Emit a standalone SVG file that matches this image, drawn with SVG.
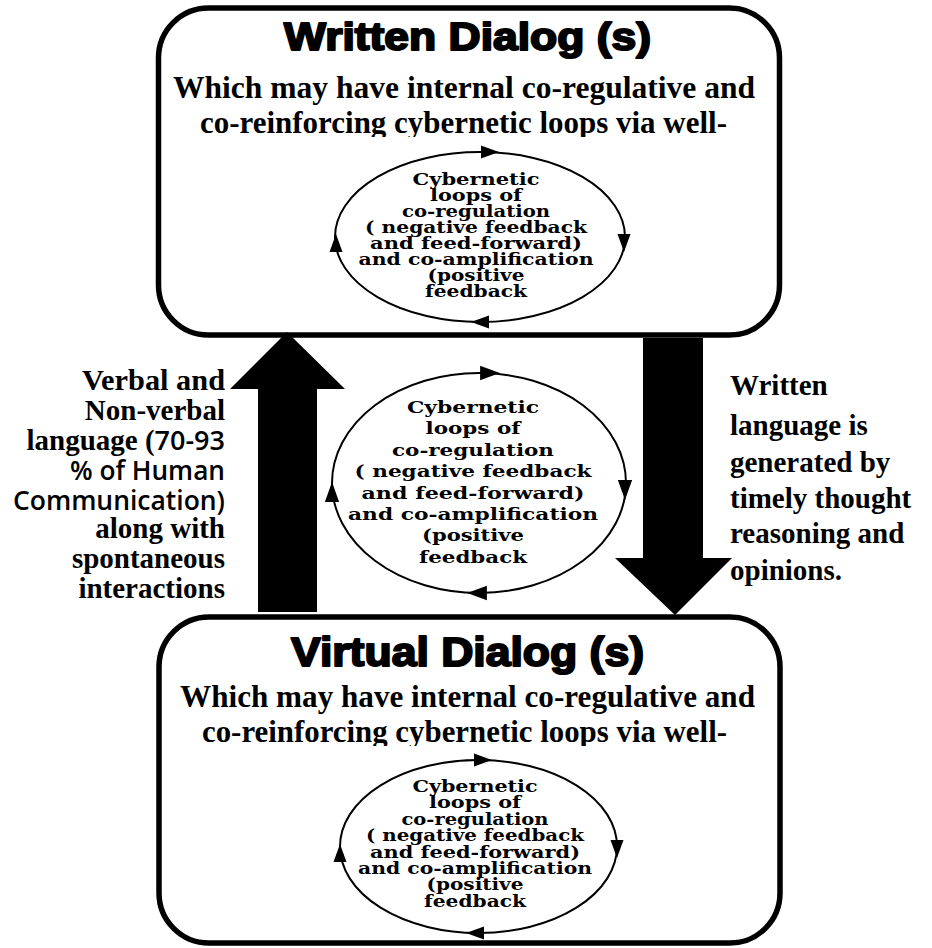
<svg xmlns="http://www.w3.org/2000/svg" xmlns:xlink="http://www.w3.org/1999/xlink" width="932" height="948" viewBox="0 0 932 948">
<style>
.box{fill:#fff;stroke:#000;stroke-width:5.5}
.ell{fill:none;stroke:#000;stroke-width:2}
.title{font-family:"Liberation Sans",Arial,sans-serif;font-weight:bold;fill:#000;stroke:#000;stroke-width:2;stroke-linejoin:round}
.sub{font-family:"Liberation Serif","Times New Roman",serif;font-weight:bold;font-size:31px;fill:#000}
.loop{font-family:"DejaVu Serif",serif;font-weight:bold;fill:#000;text-anchor:middle}
.side{font-family:"Liberation Serif","Times New Roman",serif;font-weight:bold;font-size:29px;fill:#000}
.sans{font-family:"Open Sans","Liberation Sans",sans-serif;font-weight:600;font-size:27px}
.blk{fill:#000;stroke:none}
</style>
<defs>
<path id="ah" d="M-9,-6.5 L9,0 L-9,6.5 Z" fill="#000"/>
<clipPath id="clipTop"><rect x="150" y="0" width="640" height="137"/></clipPath>
<clipPath id="clipBot"><rect x="150" y="600" width="640" height="146"/></clipPath>
</defs>

<g id="written-dialog">
<rect class="box" x="158.5" y="8" width="621" height="327" rx="50" ry="50"/>
<text class="title" x="284" y="50" font-size="38" textLength="367" lengthAdjust="spacingAndGlyphs">Written Dialog (s)</text>
<g clip-path="url(#clipTop)">
<text class="sub" x="173" y="98" textLength="582" lengthAdjust="spacingAndGlyphs">Which may have internal co-regulative and</text>
<text class="sub" x="200" y="133" textLength="527" lengthAdjust="spacingAndGlyphs">co-reinforcing cybernetic loops via well-</text>
</g>
<g id="written-loop">
<ellipse class="ell" cx="480" cy="237" rx="145" ry="85"/>
<use xlink:href="#ah" href="#ah" transform="translate(490,152)"/>
<use xlink:href="#ah" href="#ah" transform="translate(624,243) rotate(90)"/>
<use xlink:href="#ah" href="#ah" transform="translate(480,322) rotate(180)"/>
<use xlink:href="#ah" href="#ah" transform="translate(336,243) rotate(-90)"/>
<g class="loop" font-size="16">
<text x="476" y="185" textLength="127" lengthAdjust="spacingAndGlyphs">Cybernetic</text>
<text x="476" y="201" textLength="92" lengthAdjust="spacingAndGlyphs">loops of</text>
<text x="476" y="217" textLength="148" lengthAdjust="spacingAndGlyphs">co-regulation</text>
<text x="476" y="233" textLength="222" lengthAdjust="spacingAndGlyphs">( negative feedback</text>
<text x="476" y="249" textLength="212" lengthAdjust="spacingAndGlyphs">and feed-forward)</text>
<text x="476" y="265" textLength="235" lengthAdjust="spacingAndGlyphs">and co-amplification</text>
<text x="476" y="281" textLength="97" lengthAdjust="spacingAndGlyphs">(positive</text>
<text x="476" y="297" textLength="102" lengthAdjust="spacingAndGlyphs">feedback</text>
</g>
</g>
</g>

<g id="virtual-dialog">
<rect class="box" x="159" y="617" width="621" height="326" rx="50" ry="50"/>
<text class="title" x="291" y="666" font-size="40" textLength="353" lengthAdjust="spacingAndGlyphs">Virtual Dialog (s)</text>
<g clip-path="url(#clipBot)">
<text class="sub" x="180" y="707" textLength="575" lengthAdjust="spacingAndGlyphs">Which may have internal co-regulative and</text>
<text class="sub" x="202" y="742" textLength="525" lengthAdjust="spacingAndGlyphs">co-reinforcing cybernetic loops via well-</text>
</g>
<g id="virtual-loop">
<ellipse class="ell" cx="478.5" cy="846.5" rx="138.5" ry="86.5"/>
<use xlink:href="#ah" href="#ah" transform="translate(483,760)"/>
<use xlink:href="#ah" href="#ah" transform="translate(617,849) rotate(90)"/>
<use xlink:href="#ah" href="#ah" transform="translate(475,933) rotate(180)"/>
<use xlink:href="#ah" href="#ah" transform="translate(340,853) rotate(-90)"/>
<g class="loop" font-size="16">
<text x="475" y="792" textLength="125" lengthAdjust="spacingAndGlyphs">Cybernetic</text>
<text x="475" y="808.4" textLength="92" lengthAdjust="spacingAndGlyphs">loops of</text>
<text x="475" y="824.8" textLength="147" lengthAdjust="spacingAndGlyphs">co-regulation</text>
<text x="475" y="841.2" textLength="218" lengthAdjust="spacingAndGlyphs">( negative feedback</text>
<text x="475" y="857.6" textLength="210" lengthAdjust="spacingAndGlyphs">and feed-forward)</text>
<text x="475" y="874" textLength="234" lengthAdjust="spacingAndGlyphs">and co-amplification</text>
<text x="475" y="890.4" textLength="97" lengthAdjust="spacingAndGlyphs">(positive</text>
<text x="475" y="906.8" textLength="102" lengthAdjust="spacingAndGlyphs">feedback</text>
</g>
</g>
</g>

<g id="middle-loop">
<ellipse class="ell" cx="479" cy="483" rx="147" ry="110"/>
<use xlink:href="#ah" href="#ah" transform="translate(490,373) scale(1.1)"/>
<use xlink:href="#ah" href="#ah" transform="translate(625,490) rotate(90) scale(1.1)"/>
<use xlink:href="#ah" href="#ah" transform="translate(477,593) rotate(180) scale(1.1)"/>
<use xlink:href="#ah" href="#ah" transform="translate(332,492) rotate(-90) scale(1.1)"/>
<g class="loop" font-size="17.5">
<text x="473" y="413" textLength="132" lengthAdjust="spacingAndGlyphs">Cybernetic</text>
<text x="473" y="434.4" textLength="95" lengthAdjust="spacingAndGlyphs">loops of</text>
<text x="473" y="455.8" textLength="162" lengthAdjust="spacingAndGlyphs">co-regulation</text>
<text x="473" y="477.2" textLength="237" lengthAdjust="spacingAndGlyphs">( negative feedback</text>
<text x="473" y="498.6" textLength="223" lengthAdjust="spacingAndGlyphs">and feed-forward)</text>
<text x="473" y="520" textLength="250" lengthAdjust="spacingAndGlyphs">and co-amplification</text>
<text x="473" y="541.4" textLength="102" lengthAdjust="spacingAndGlyphs">(positive</text>
<text x="473" y="562.8" textLength="108" lengthAdjust="spacingAndGlyphs">feedback</text>
</g>
</g>

<g id="connectors">
<polygon class="blk" points="287,332 345,389 317,389 317,612 258,612 258,389 230,389"/>
<polygon class="blk" points="643,338 703,338 703,558 732,558 675,615 615,558 643,558"/>
</g>

<g id="label-left">
<text class="side" x="225" y="390" text-anchor="end" textLength="143" lengthAdjust="spacingAndGlyphs">Verbal and</text>
<text class="side" x="225" y="420" text-anchor="end">Non-verbal</text>
<text class="side" x="225" y="450" text-anchor="end">language (<tspan class="sans">70-93</tspan></text>
<text class="side sans" x="225" y="480" text-anchor="end" textLength="155" lengthAdjust="spacingAndGlyphs">% of Human</text>
<text class="side sans" x="225" y="510" text-anchor="end" textLength="212" lengthAdjust="spacingAndGlyphs">Communication)</text>
<text class="side" x="225" y="538" text-anchor="end">along with</text>
<text class="side" x="225" y="568" text-anchor="end">spontaneous</text>
<text class="side" x="225" y="598" text-anchor="end">interactions</text>
</g>

<g id="label-right">
<text class="side" x="730" y="395" font-size="30">Written</text>
<text class="side" x="730" y="435" font-size="30">language is</text>
<text class="side" x="730" y="472" font-size="30">generated by</text>
<text class="side" x="730" y="508" font-size="30">timely thought</text>
<text class="side" x="730" y="543" font-size="30">reasoning and</text>
<text class="side" x="730" y="580" font-size="30">opinions.</text>
</g>
</svg>
